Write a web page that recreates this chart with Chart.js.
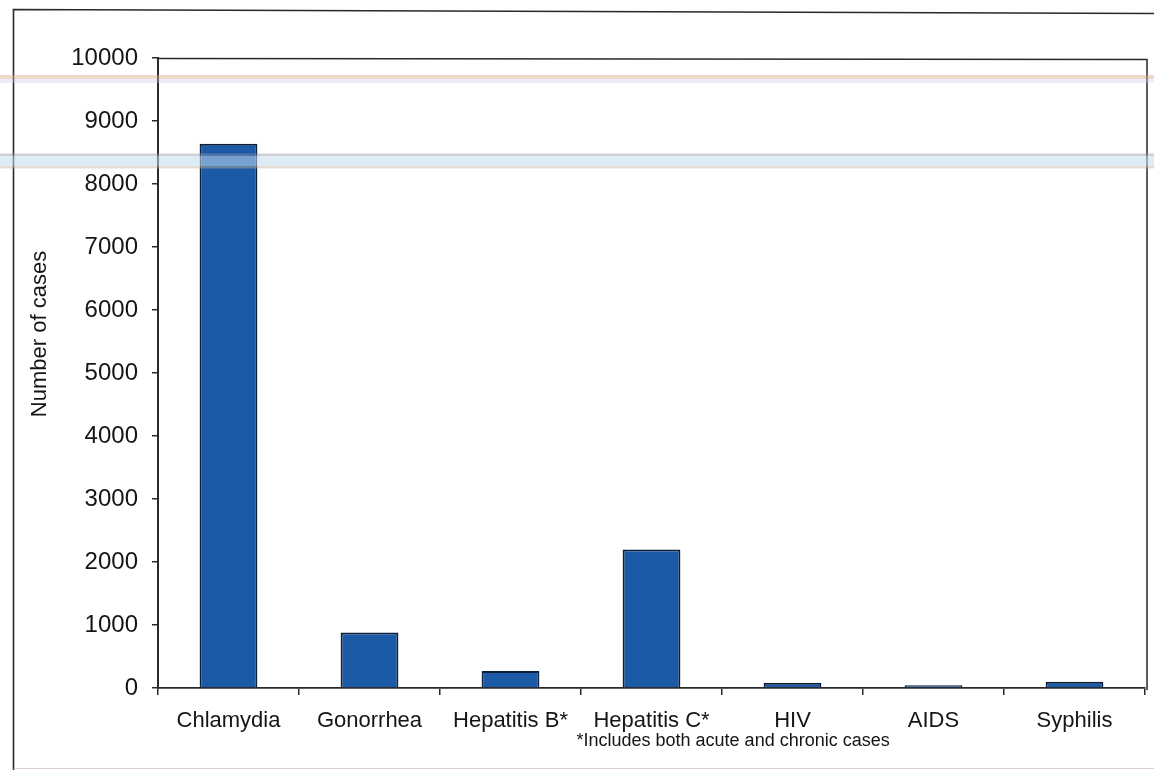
<!DOCTYPE html>
<html>
<head>
<meta charset="utf-8">
<title>Number of cases</title>
<script src="https://cdn.jsdelivr.net/npm/chart.js@4.4.1/dist/chart.umd.min.js"></script>
<style>
  html, body { margin: 0; padding: 0; background: #ffffff; }
  #wrap { width: 1154px; height: 773px; position: relative; }
  canvas { display: block; }
</style>
</head>
<body>
<div id="wrap"><canvas id="chart" width="1154" height="773"></canvas></div>
<script>
// Reported cases by disease
const categories = ['Chlamydia', 'Gonorrhea', 'Hepatitis B*', 'Hepatitis C*', 'HIV', 'AIDS', 'Syphilis'];
const caseCounts = [8640, 880, 270, 2200, 85, 45, 100];

// Value axis
const yRange = [0, 10000];
const yStep = 1000;

// Text
const yTitle = 'Number of cases';
const footnote = '*Includes both acute and chronic cases';

const FONT = '"Liberation Sans", Arial, Helvetica, sans-serif';
const INK = '#151515';

// Frame, plot-area border, footnote, axis title and the faint scanner streaks
const decorations = {
  id: 'decorations',
  beforeDraw(chart) {
    const ctx = chart.ctx;
    ctx.save();
    ctx.fillStyle = '#ffffff';
    ctx.fillRect(0, 0, chart.width, chart.height);
    // outer frame
    ctx.strokeStyle = '#2a2a2a';
    ctx.lineWidth = 1.6;
    ctx.beginPath();
    ctx.moveTo(1154, 13.5);
    ctx.lineTo(13.5, 9.5);
    ctx.lineTo(13.5, 770);
    ctx.stroke();
    ctx.strokeStyle = 'rgba(205,185,185,0.7)';
    ctx.lineWidth = 1.2;
    ctx.beginPath();
    ctx.moveTo(13.5, 768.5);
    ctx.lineTo(1154, 768.5);
    ctx.stroke();
    ctx.restore();
  },
  afterDraw(chart) {
    const ctx = chart.ctx;
    const a = chart.chartArea;
    const xs = chart.scales.x;
    ctx.save();
    // plot-area top and right border
    ctx.strokeStyle = '#2a2a2a';
    ctx.lineWidth = 1.5;
    ctx.beginPath();
    ctx.moveTo(a.left, a.top + 0.5);
    ctx.lineTo(a.right + 2, a.top + 1.5);
    ctx.lineTo(a.right + 2, a.bottom + 2);
    ctx.stroke();

    // y axis title
    ctx.fillStyle = INK;
    ctx.font = '22px ' + FONT;
    ctx.textAlign = 'center';
    ctx.textBaseline = 'middle';
    ctx.translate(40, 334);
    ctx.rotate(-Math.PI / 2);
    ctx.fillText(yTitle, 0, 0);
    ctx.setTransform(1, 0, 0, 1, 0, 0);

    // footnote under the Hepatitis C* label
    ctx.font = '18px ' + FONT;
    ctx.textAlign = 'left';
    ctx.textBaseline = 'alphabetic';
    ctx.fillText(footnote, xs.getPixelForValue(3) - 75, 746);

    // scanner streaks
    const W = chart.width;
    ctx.fillStyle = 'rgba(222,170,140,0.45)';
    ctx.fillRect(0, 75, W, 4);
    ctx.fillStyle = 'rgba(205,200,240,0.35)';
    ctx.fillRect(0, 79, W, 4);
    ctx.fillStyle = 'rgba(150,150,165,0.45)';
    ctx.fillRect(0, 153.5, W, 2.5);
    ctx.fillStyle = 'rgba(195,220,240,0.55)';
    ctx.fillRect(0, 156, W, 10);
    ctx.fillStyle = 'rgba(200,180,150,0.45)';
    ctx.fillRect(0, 166, W, 2.5);
    ctx.restore();
  }
};

new Chart(document.getElementById('chart'), {
  type: 'bar',
  data: {
    labels: categories,
    datasets: [{
      data: caseCounts,
      backgroundColor: '#1b5aa6',
      borderColor: '#0c203d',
      borderWidth: 2,
      barPercentage: 0.41,
      categoryPercentage: 1.0
    }]
  },
  options: {
    responsive: false,
    animation: false,
    devicePixelRatio: 1,
    layout: { padding: { left: 13, top: 58, right: 9, bottom: 0 } },
    plugins: {
      legend: { display: false },
      tooltip: { enabled: false },
      title: { display: false }
    },
    scales: {
      x: {
        offset: true,
        grid: {
          offset: true,
          drawOnChartArea: false,
          drawTicks: true,
          tickLength: 7,
          color: '#2a2a2a',
          lineWidth: 1.5
        },
        border: { display: true, color: '#2a2a2a', width: 1.8 },
        ticks: {
          color: INK,
          font: { family: FONT, size: 22 },
          padding: 13,
          maxRotation: 0,
          autoSkip: false
        },
        afterFit(scale) { scale.height = 85; }
      },
      y: {
        min: yRange[0],
        max: yRange[1],
        grid: {
          drawOnChartArea: false,
          drawTicks: true,
          tickLength: 6,
          color: '#2a2a2a',
          lineWidth: 1.5
        },
        border: { display: true, color: '#2a2a2a', width: 2 },
        ticks: {
          stepSize: yStep,
          color: INK,
          font: { family: FONT, size: 24 },
          padding: 14,
          callback: (v) => String(v)
        },
        afterFit(scale) { scale.width = 145; }
      }
    }
  },
  plugins: [decorations]
});
</script>
</body>
</html>
